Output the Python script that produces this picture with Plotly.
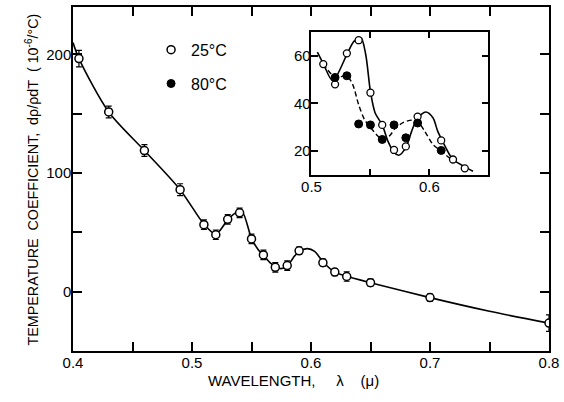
import plotly.graph_objects as go

# ---- Main plot data (25 C) ----
wl_25 = [0.405, 0.43, 0.46, 0.49, 0.51, 0.52, 0.53, 0.54, 0.55, 0.56, 0.57, 0.58, 0.59, 0.61, 0.62, 0.63, 0.65, 0.70, 0.80]
coef_25 = [196.5, 151.5, 119, 86, 56.5, 48, 61, 66.5, 44.5, 31, 20.5, 22, 34.5, 24.5, 16.5, 12.8, 7.6, -5, -26.5]
err_25 = [7, 5, 5, 5, 4, 4, 4, 4, 4, 4, 4, 4, 3, 3, 3, 4, 3, 3, 7]

# smooth curve drawn through the 25 C data (main panel)
curve_wl = [0.400, 0.405, 0.43, 0.46, 0.49, 0.51, 0.52, 0.53, 0.536, 0.542, 0.55, 0.556, 0.56, 0.566, 0.574,
            0.58, 0.585, 0.59, 0.597, 0.603, 0.61, 0.62, 0.63, 0.65, 0.70, 0.75, 0.80]
curve_25 = [210, 196.5, 151.5, 119, 86, 57, 48.5, 60.5, 66, 67.5, 45, 35, 31, 24, 19.5,
            21.5, 28.5, 34, 36.3, 34, 25.3, 16.5, 13, 7.6, -5, -16.5, -26.5]

# ---- Inset data ----
wl_80 = [0.52, 0.53, 0.54, 0.55, 0.56, 0.57, 0.58, 0.59, 0.61]
coef_80 = [50.9, 51.6, 31.4, 31.0, 24.9, 31.0, 25.6, 31.8, 20.3]

inset_wl_25 = [0.505, 0.51, 0.518, 0.53, 0.536, 0.542, 0.546, 0.55, 0.554, 0.56, 0.565, 0.57, 0.574, 0.58,
               0.585, 0.59, 0.597, 0.603, 0.607, 0.61, 0.617, 0.62, 0.63, 0.637]
inset_curve_25 = [61.5, 56.7, 49.5, 60.5, 66, 67.4, 60.5, 45, 36, 31, 24, 19.5, 18.3, 21.5,
                  28.4, 34, 36.4, 34, 28.4, 25.3, 18.6, 16.5, 13.4, 11.6]
inset_wl_80 = [0.51, 0.52, 0.53, 0.535, 0.54, 0.545, 0.55, 0.555, 0.56, 0.566, 0.571, 0.578, 0.585, 0.59,
               0.596, 0.603, 0.61, 0.617, 0.62]
inset_curve_80 = [56.7, 51, 51.5, 47.9, 39.5, 33.2, 30, 27, 24.9, 26.3, 29.5, 32.1, 33, 32.5,
                  28.4, 22.8, 20, 17.2, 16.5]

# tick labels
x_ticks = [0.4, 0.5, 0.6, 0.7, 0.8]
x_labels = ["0.4", "0.5", "0.6", "0.7", "0.8"]
y_ticks = [0, 100, 200]
y_labels = ["0", "100", "200"]
ix_ticks = [0.5, 0.6]
ix_labels = ["0.5", "0.6"]
iy_ticks = [20, 40, 60]
iy_labels = ["20", "40", "60"]

FONT = "Liberation Sans"
inset_25_sel = [i for i, w in enumerate(wl_25) if 0.505 <= w <= 0.64]

fig = go.Figure()

# main curve
fig.add_trace(go.Scatter(x=curve_wl, y=curve_25, mode="lines", line=dict(color="black", width=1.6, shape="spline", smoothing=0.8),
                         showlegend=False, hoverinfo="skip"))
# main points
fig.add_trace(go.Scatter(x=wl_25, y=coef_25, mode="markers", name="25°C", legendgroup="a",
                         marker=dict(symbol="circle", size=8, color="white", line=dict(color="black", width=1.5)),
                         error_y=dict(type="data", array=err_25, color="black", thickness=1.2, width=3)))

# inset curves
fig.add_trace(go.Scatter(x=inset_wl_25, y=inset_curve_25, mode="lines", xaxis="x2", yaxis="y2",
                         line=dict(color="black", width=1.6, shape="spline", smoothing=0.8), showlegend=False, hoverinfo="skip"))
fig.add_trace(go.Scatter(x=inset_wl_80, y=inset_curve_80, mode="lines", xaxis="x2", yaxis="y2",
                         line=dict(color="black", width=1.4, shape="spline", smoothing=0.8, dash="5px,3px"),
                         showlegend=False, hoverinfo="skip"))
# inset points
fig.add_trace(go.Scatter(x=[wl_25[i] for i in inset_25_sel], y=[coef_25[i] for i in inset_25_sel], mode="markers",
                         xaxis="x2", yaxis="y2", showlegend=False,
                         marker=dict(symbol="circle", size=7, color="white", line=dict(color="black", width=1.3))))
fig.add_trace(go.Scatter(x=wl_80, y=coef_80, mode="markers", xaxis="x2", yaxis="y2", name="80°C", legendgroup="b",
                         marker=dict(symbol="circle", size=8, color="black", line=dict(color="black", width=1))))

axis_common = dict(showgrid=False, zeroline=False, showline=True, linecolor="black", linewidth=1.5,
                   mirror="ticks", ticks="inside", tickcolor="black", tickwidth=1.5,
                   ticklabeloverflow="allow",
                   tickfont=dict(family=FONT, size=15, color="black"))

fig.update_layout(
    width=564, height=402,
    margin=dict(l=73, r=10, t=5, b=51),
    paper_bgcolor="white", plot_bgcolor="white",
    font=dict(family=FONT, color="black"),
    xaxis=dict(range=[0.4, 0.8], tickvals=x_ticks, ticktext=x_labels, ticklen=9, domain=[0, 1],
               minor=dict(dtick=0.05, tick0=0.4, ticks="inside", ticklen=9, tickwidth=1.5, tickcolor="black", showgrid=False),
               ticklabelstandoff=-3, **axis_common),
    yaxis=dict(range=[-50, 240], tickvals=y_ticks, ticktext=y_labels, ticklen=9,
               minor=dict(dtick=50, tick0=0, ticks="inside", ticklen=9, tickwidth=1.5, tickcolor="black", showgrid=False),
               ticklabelstandoff=-3, **axis_common),
    xaxis2=dict(range=[0.5, 0.65], tickvals=ix_ticks, ticktext=ix_labels, ticklen=6, domain=[0.501, 0.8726],
                minor=dict(dtick=0.05, tick0=0.5, ticks="inside", ticklen=6, tickwidth=1.5, tickcolor="black", showgrid=False),
                anchor="y2", ticklabelstandoff=-3, **axis_common),
    yaxis2=dict(range=[10, 70], tickvals=iy_ticks, ticktext=iy_labels, ticklen=7, domain=[0.5116, 0.9277],
                anchor="x2", ticklabelstandoff=-4, **axis_common),
    legend=dict(x=0.164, y=0.925, xanchor="left", yanchor="top", bgcolor="rgba(0,0,0,0)",
                font=dict(family=FONT, size=16, color="black"), tracegroupgap=10),
    annotations=[
        dict(text="WAVELENGTH,\u00a0\u00a0\u00a0\u00a0\u00a0λ\u00a0\u00a0\u00a0\u00a0(μ)", xref="paper", yref="paper",
             x=0.4636, y=-0.087, xanchor="center", yanchor="middle", showarrow=False,
             font=dict(family=FONT, size=15, color="black")),
        dict(text="TEMPERATURE\u00a0\u00a0COEFFICIENT,\u00a0\u00a0dρ/ρdT\u00a0\u00a0(\u00a010<sup>-6</sup>/°C)",
             xref="paper", yref="paper", x=-0.0852, y=0.5, xanchor="center", yanchor="middle",
             textangle=-90, showarrow=False, font=dict(family=FONT, size=14.3, color="black")),
    ],
)

fig.write_html("out.html")
